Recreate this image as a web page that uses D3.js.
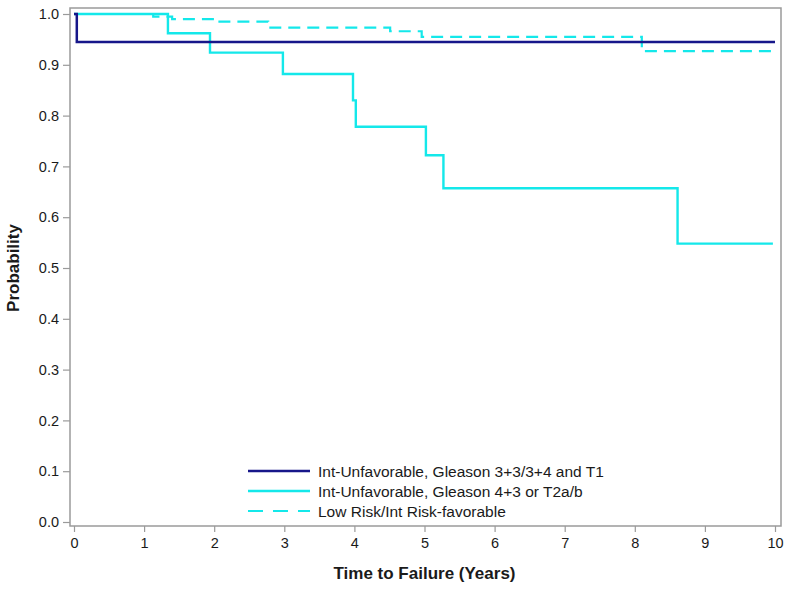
<!DOCTYPE html>
<html>
<head>
<meta charset="utf-8">
<script src="https://cdn.jsdelivr.net/npm/d3@7"></script>
<style>
  html, body { margin: 0; padding: 0; background: #fff; }
  svg { display: block; font-family: "Liberation Sans", Arial, sans-serif; }
</style>
</head>
<body>
<svg id="chart" width="787" height="591"></svg>
<script>
// ---- Data ----
const xTicks = [0, 1, 2, 3, 4, 5, 6, 7, 8, 9, 10];
const yTicks = [0.0, 0.1, 0.2, 0.3, 0.4, 0.5, 0.6, 0.7, 0.8, 0.9, 1.0];

const seriesNames = [
  "Int-Unfavorable, Gleason 3+3/3+4 and T1",
  "Int-Unfavorable, Gleason 4+3 or T2a/b",
  "Low Risk/Int Risk-favorable"
];

const navyTimes = [0, 0.04, 10];
const navySurv  = [1.0, 0.945, 0.945];

const cyanTimes = [0, 1.34, 1.94, 2.98, 3.98, 4.02, 5.02, 5.27, 8.61, 9.97];
const cyanSurv  = [1.0, 0.962, 0.924, 0.882, 0.830, 0.778, 0.722, 0.657, 0.548, 0.548];

const dashTimes = [0, 1.13, 1.40, 2.01, 2.77, 4.51, 4.96, 8.10, 10];
const dashSurv  = [1.0, 0.995, 0.990, 0.985, 0.973, 0.966, 0.955, 0.927, 0.927];

// ---- Layout ----
const svg = d3.select("#chart");
const x = d3.scaleLinear().domain([0, 10]).range([74, 775]);
const y = d3.scaleLinear().domain([0, 1]).range([522, 14]);

const frameL = x(0) - 4, frameR = x(10) + 6, frameT = y(1) - 6, frameB = y(0) + 4;
const axisColor = "#9a9a9a";
const textColor = "#1a1a1a";
const fontFam = "'Liberation Sans', Arial, sans-serif";

// frame
svg.append("rect")
  .attr("x", frameL).attr("y", frameT)
  .attr("width", frameR - frameL).attr("height", frameB - frameT)
  .attr("fill", "none").attr("stroke", axisColor).attr("stroke-width", 1.5);

// y axis
const yAxis = svg.append("g")
  .attr("transform", `translate(${frameL},0)`)
  .call(d3.axisLeft(y).tickValues(yTicks).tickFormat(d3.format(".1f")).tickSize(7).tickPadding(4));
yAxis.select(".domain").remove();
yAxis.selectAll("line").attr("stroke", axisColor).attr("stroke-width", 1.2);
yAxis.selectAll("text").attr("fill", textColor).style("font-size", "14.5px").style("font-family", fontFam);

// x axis
const xAxis = svg.append("g")
  .attr("transform", `translate(0,${frameB})`)
  .call(d3.axisBottom(x).tickValues(xTicks).tickFormat(d3.format("d")).tickSize(6).tickPadding(6));
xAxis.select(".domain").remove();
xAxis.selectAll("line").attr("stroke", axisColor).attr("stroke-width", 1.2);
xAxis.selectAll("text").attr("fill", textColor).style("font-size", "14.5px").style("font-family", fontFam);

// axis titles
svg.append("text")
  .attr("x", x(5)).attr("y", 579)
  .attr("text-anchor", "middle")
  .style("font-size", "17px").style("font-weight", "bold").attr("fill", textColor)
  .text("Time to Failure (Years)");

svg.append("text")
  .attr("transform", `translate(19,${y(0.5)}) rotate(-90)`)
  .attr("text-anchor", "middle")
  .style("font-size", "17px").style("font-weight", "bold").attr("fill", textColor)
  .text("Probability");

// ---- Curves ----
const line = d3.line().x(d => x(d[0])).y(d => y(d[1])).curve(d3.curveStepAfter);
const navyColor = "#17178a";
const cyanColor = "#14e8ea";

const curves = [
  { t: dashTimes, s: dashSurv, color: cyanColor, width: 2.2, dash: "12,7" },
  { t: cyanTimes, s: cyanSurv, color: cyanColor, width: 2.4, dash: null },
  { t: navyTimes, s: navySurv, color: navyColor, width: 2.5, dash: null }
];

curves.forEach(c => {
  svg.append("path")
    .datum(c.t.map((t, i) => [t, c.s[i]]))
    .attr("d", line)
    .attr("fill", "none")
    .attr("stroke", c.color)
    .attr("stroke-width", c.width)
    .attr("stroke-dasharray", c.dash);
});

// ---- Legend ----
const legend = [
  { name: seriesNames[0], color: navyColor, width: 2.5, dash: null },
  { name: seriesNames[1], color: cyanColor, width: 2.4, dash: null },
  { name: seriesNames[2], color: cyanColor, width: 2.2, dash: "15,10" }
];
const lg = svg.append("g").attr("transform", "translate(248,471)");
legend.forEach((d, i) => {
  const row = lg.append("g").attr("transform", `translate(0,${i * 20})`);
  row.append("line")
    .attr("x1", 0).attr("x2", 62).attr("y1", 0).attr("y2", 0)
    .attr("stroke", d.color).attr("stroke-width", d.width)
    .attr("stroke-dasharray", d.dash);
  row.append("text")
    .attr("x", 70).attr("y", 5.5)
    .style("font-size", "15.5px").attr("fill", textColor)
    .text(d.name);
});
</script>
</body>
</html>
